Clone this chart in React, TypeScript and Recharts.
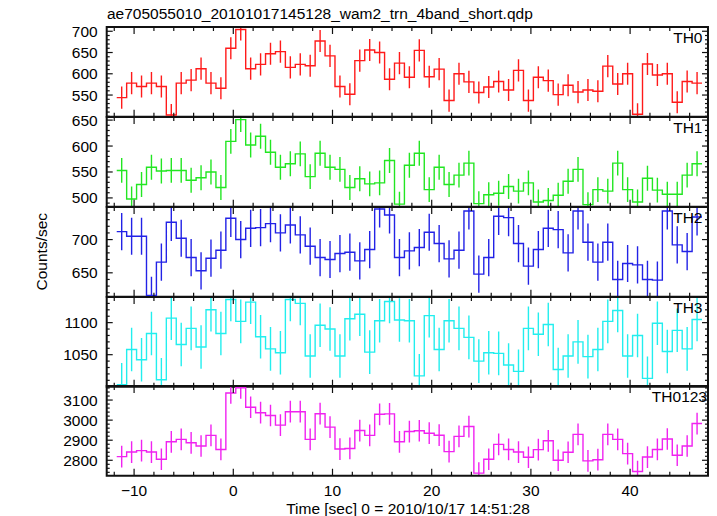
import React from 'react';
import { ComposedChart, Line, Scatter, ErrorBar, XAxis, YAxis, ReferenceArea } from 'recharts';

// 1 s bins, first bin centred at -11.25 s
const firstBinCentre = -11.25;
const binWidth = 1;

const th0Rate = [
  544, 578, 570, 578, 570, 503, 578, 585, 612, 578,
  566, 660, 704, 612, 622, 647, 652, 615, 622, 619,
  677, 642, 570, 552, 631, 656, 650, 587, 625, 592,
  655, 593, 611, 537, 600, 581, 556, 569, 582, 562,
  608, 537, 592, 584, 551, 573, 557, 562, 559, 618,
  576, 600, 505, 623, 597, 600, 533, 582, 578,
];
const th1Rate = [
  553, 498, 526, 559, 552, 553, 553, 534, 539, 550,
  520, 609, 651, 602, 619, 588, 559, 566, 585, 541,
  586, 559, 555, 520, 537, 527, 529, 572, 488, 563,
  586, 516, 559, 526, 544, 567, 489, 506, 509, 522,
  513, 529, 492, 495, 505, 532, 555, 487, 516, 513,
  567, 516, 492, 538, 515, 507, 507, 544, 566,
];
const th2Rate = [
  712, 705, 705, 616, 666, 726, 702, 673, 653, 672,
  684, 732, 700, 717, 718, 724, 710, 722, 707, 690,
  673, 670, 679, 681, 668, 685, 746, 737, 673, 683,
  688, 711, 694, 671, 684, 743, 648, 673, 735, 733,
  694, 660, 685, 717, 715, 680, 743, 696, 666, 696,
  640, 664, 662, 640, 639, 743, 692, 682, 734,
];
const th3Rate = [
  1003, 1058, 1042, 1083, 1011, 1107, 1066, 1091, 1062, 1120,
  1083, 1136, 1102, 1132, 1078, 1059, 1053, 1136, 1130, 1048,
  1096, 1090, 1048, 1106, 1113, 1054, 1103, 1133, 1104, 1103,
  1017, 1111, 1058, 1103, 1091, 1077, 1040, 1053, 1052, 1034,
  1024, 1091, 1082, 1097, 1027, 1048, 1070, 1047, 1058, 1102,
  1119, 1048, 1080, 1013, 1099, 1055, 1088, 1059, 1105,
];
const th0123Rate = [
  2818, 2841, 2848, 2841, 2805, 2892, 2904, 2887, 2871, 2924,
  2854, 3135, 3161, 3064, 3037, 3023, 2975, 3042, 3042, 2904,
  3032, 2965, 2856, 2859, 2948, 2924, 3029, 3031, 2892, 2943,
  2947, 2935, 2925, 2843, 2919, 2968, 2736, 2805, 2879, 2854,
  2841, 2815, 2853, 2897, 2800, 2840, 2929, 2797, 2803, 2929,
  2904, 2833, 2744, 2816, 2854, 2906, 2825, 2871, 2983,
];

// 1-sigma errors, about the same for every bin of a band
const th0Err = 26;
const th1Err = 24;
const th2Err = 28;
const th3Err = 34;
const th0123Err = 54;

const th0Ticks = [550, 600, 650, 700];
const th1Ticks = [500, 550, 600, 650];
const th2Ticks = [650, 700];
const th3Ticks = [1050, 1100];
const th0123Ticks = [2800, 2900, 3000, 3100];
const timeTicks = [-10, 0, 10, 20, 30, 40];

const W = 717;
const plotLeft = 106.7;
const plotRight = 708;
const panelTop = 27.3;
const panelH = 89.74;
const xDomain: [number, number] = [-12.76, 47.85];
const font = '"Liberation Sans", Arial, Helvetica, sans-serif';
const fs = 15.5;
const ink = '#111';

const range = (lo: number, hi: number, step: number) => {
  const out: number[] = [];
  for (let v = lo; v <= hi + 1e-9; v += step) out.push(Math.round(v * 1000) / 1000);
  return out;
};

interface PanelProps {
  index: number;
  name: string;
  nameX: number;
  color: string;
  rates: number[];
  err: number;
  domain: [number, number];
  major: number[];
  minorStep: number;
}

const Panel = ({ index, name, nameX, color, rates, err, domain, major, minorStep }: PanelProps) => {
  const top = panelTop + index * panelH;
  const last = index === 4;
  const pad = 12;
  const axisH = last ? 40 : 1;
  const h = pad + panelH + axisH + 2;
  const plotW = plotRight - plotLeft;

  const points = rates.map((v, i) => ({ t: firstBinCentre + i * binWidth, v, e: err }));
  const steps = rates.map((v, i) => ({ t: firstBinCentre + (i - 0.5) * binWidth, v }));
  steps.push({ t: firstBinCentre + (rates.length - 0.5) * binWidth, v: rates[rates.length - 1] });

  const firstMinor = Math.ceil(domain[0] / minorStep) * minorStep;
  const yTicks = range(firstMinor, domain[1], minorStep);
  const xTicks = range(-12, 46, 2);

  const renderYTick = (props: any) => {
    const { x, y, payload } = props;
    const v = payload.value;
    const isMajor = major.some((m) => Math.abs(m - v) < 1e-6);
    const len = isMajor ? 6 : 3;
    return (
      <g>
        <line x1={x} x2={x + len} y1={y} y2={y} stroke={ink} strokeWidth={1.2} />
        <line x1={x + plotW} x2={x + plotW - len} y1={y} y2={y} stroke={ink} strokeWidth={1.2} />
        {isMajor && (
          <text x={x - 9} y={y + 5.5} textAnchor="end" fontFamily={font} fontSize={fs} fill="#000">
            {v}
          </text>
        )}
      </g>
    );
  };

  const renderXTick = (props: any) => {
    const { x, y, payload } = props;
    const v = payload.value;
    const isMajor = timeTicks.includes(v);
    const len = isMajor ? 7 : 4;
    return (
      <g>
        <line x1={x} x2={x} y1={y} y2={y - len} stroke={ink} strokeWidth={1.2} />
        <line x1={x} x2={x} y1={y - panelH} y2={y - panelH + len} stroke={ink} strokeWidth={1.2} />
        {last && isMajor && (
          <text x={x} y={y + 20.5} textAnchor="middle" fontFamily={font} fontSize={fs} fill="#000">
            {v < 0 ? `\u2212${-v}` : v}
          </text>
        )}
      </g>
    );
  };

  // error bars sit in a second chart with the same layout, clipped to the plot box
  const clip = `inset(${pad}px ${W - plotRight}px ${h - pad - panelH}px ${plotLeft}px)`;

  return (
    <div style={{ position: 'absolute', left: 0, top: top - pad }}>
      <div style={{ position: 'absolute', left: 0, top: 0, clipPath: clip }}>
        <ComposedChart
          width={W}
          height={h}
          margin={{ top: pad, bottom: h - pad - panelH, left: plotLeft, right: W - plotRight }}
        >
          <XAxis dataKey="t" type="number" domain={xDomain} allowDataOverflow hide />
          <YAxis dataKey="v" type="number" domain={domain} allowDataOverflow hide />
          <Scatter data={points} dataKey="v" shape={() => <g />} isAnimationActive={false}>
            <ErrorBar dataKey="e" direction="y" width={0} stroke={color} strokeWidth={1.4} isAnimationActive={false} />
          </Scatter>
        </ComposedChart>
      </div>
      <div style={{ position: 'absolute', left: 0, top: 0 }}>
        <ComposedChart width={W} height={h} margin={{ top: pad, bottom: 2, left: 0, right: W - plotRight }}>
          <XAxis
            dataKey="t"
            type="number"
            domain={xDomain}
            ticks={xTicks}
            interval={0}
            allowDataOverflow
            axisLine={false}
            tickLine={false}
            tickSize={0}
            tickMargin={0}
            height={axisH}
            tick={renderXTick}
          />
          <YAxis
            dataKey="v"
            type="number"
            domain={domain}
            ticks={yTicks}
            interval={0}
            allowDataOverflow
            axisLine={false}
            tickLine={false}
            tickSize={0}
            tickMargin={0}
            width={plotLeft}
            tick={renderYTick}
          />
          <ReferenceArea
            x1={xDomain[0]}
            x2={xDomain[1]}
            y1={domain[0]}
            y2={domain[1]}
            fill="none"
            stroke={ink}
            strokeWidth={2}
            ifOverflow="visible"
          />
          <Line
            data={steps}
            dataKey="v"
            type="stepAfter"
            stroke={color}
            strokeWidth={1.4}
            dot={false}
            isAnimationActive={false}
          />
        </ComposedChart>
      </div>
      <svg width={W} height={h} style={{ position: 'absolute', left: 0, top: 0, pointerEvents: 'none' }}>
        <text x={nameX} y={pad + 15.6} textAnchor="end" fontFamily={font} fontSize={fs} fill="#000">
          {name}
        </text>
      </svg>
    </div>
  );
};

export default function App() {
  return (
    <div style={{ position: 'absolute', left: 0, top: 0, width: W, height: 516, background: '#fff' }}>
      <Panel index={0} name="TH0" nameX={702.5} color="#ff1a1a" rates={th0Rate} err={th0Err}
        domain={[499, 710]} major={th0Ticks} minorStep={10} />
      <Panel index={1} name="TH1" nameX={702.5} color="#22e622" rates={th1Rate} err={th1Err}
        domain={[483, 656]} major={th1Ticks} minorStep={10} />
      <Panel index={2} name="TH2" nameX={702.5} color="#2222e6" rates={th2Rate} err={th2Err}
        domain={[614, 749]} major={th2Ticks} minorStep={10} />
      <Panel index={3} name="TH3" nameX={702.5} color="#22eeee" rates={th3Rate} err={th3Err}
        domain={[1000, 1140]} major={th3Ticks} minorStep={10} />
      <Panel index={4} name="TH0123" nameX={707} color="#f022f0" rates={th0123Rate} err={th0123Err}
        domain={[2723, 3170]} major={th0123Ticks} minorStep={20} />
      <svg width={W} height={516} style={{ position: 'absolute', left: 0, top: 0, pointerEvents: 'none' }}>
        <text x={107} y={19} fontFamily={font} fontSize={fs} fill="#000">
          ae705055010_20101017145128_wam2_trn_4band_short.qdp
        </text>
        <text
          x={47.5}
          y={251.7}
          transform="rotate(-90 47.5 251.7)"
          textAnchor="middle"
          fontFamily={font}
          fontSize={fs}
          fill="#000"
        >
          Counts/sec
        </text>
        <text x={408} y={513.5} textAnchor="middle" fontFamily={font} fontSize={fs} fill="#000">
          Time [sec] 0 = 2010/10/17 14:51:28
        </text>
      </svg>
    </div>
  );
}
